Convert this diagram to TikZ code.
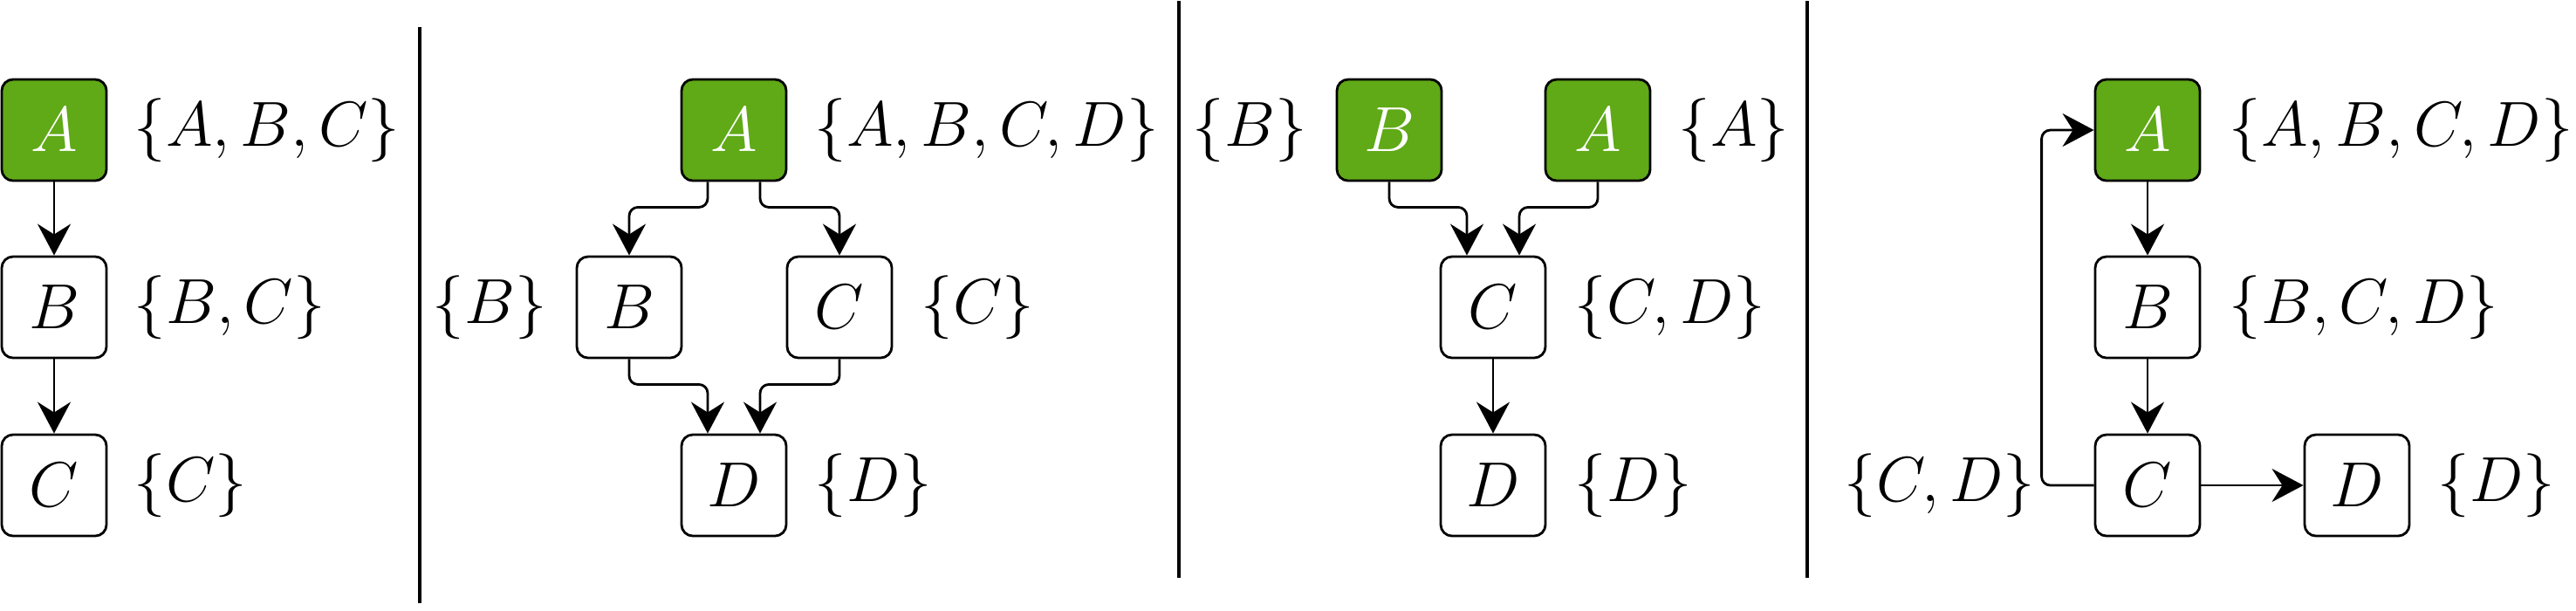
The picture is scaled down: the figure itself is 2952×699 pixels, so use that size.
\documentclass[tikz,border=0pt]{standalone}
\usetikzlibrary{arrows.meta}
\definecolor{dgreen}{HTML}{60A917}
\begin{document}
\begin{tikzpicture}[x=0.01cm,y=-0.01cm,
  box/.style={draw, line width=0.8pt, rounded corners=0.13cm, minimum width=1.2cm, minimum height=1.16cm, inner sep=0pt, font=\fontsize{21}{25}\selectfont},
  gbox/.style={box, fill=dgreen, text=white},
  lab/.style={anchor=west, inner sep=0pt, font=\fontsize{21}{25}\selectfont},
  conn/.style={line width=0.8pt, rounded corners=0.1cm, -{Stealth[length=0.36cm,width=0.38cm,inset=0.12cm]}},
  sepline/.style={line width=0.9pt}]
\useasboundingbox (0,0) rectangle (2952,699);
% separators
\draw[sepline] (481,31) -- (481,691);
\draw[sepline] (1351,1) -- (1351,662);
\draw[sepline] (2071,1) -- (2071,662);
% panel 1
\node[gbox] (a1) at (62,149) {$A$};
\node[box] (b1) at (62,352) {$B$};
\node[box] (c1) at (62,556) {$C$};
\node[lab] (la1) at (153,149) {$\{A,B,C\}$};
\node[lab] (lb1) at (153,352) {$\{B,C\}$};
\node[lab] (lc1) at (153,556) {$\{C\}$};
\draw[conn] (a1.south) -- (b1.north);
\draw[conn] (b1.south) -- (c1.north);
% panel 2
\node[gbox] (a2) at (841,149) {$A$};
\node[box] (b2) at (721,352) {$B$};
\node[box] (c2) at (962,352) {$C$};
\node[box] (d2) at (841,556) {$D$};
\node[lab] (la2) at (933,149) {$\{A,B,C,D\}$};
\node[lab] (lb2) at (495,352) {$\{B\}$};
\node[lab] (lc2) at (1055,352) {$\{C\}$};
\node[lab] (ld2) at (933,556) {$\{D\}$};
\draw[conn] ([xshift=-0.3cm]a2.south) -- ++(0,29) -| (b2.north);
\draw[conn] ([xshift=0.3cm]a2.south) -- ++(0,29) -| (c2.north);
\draw[conn] (b2.south) -- ++(0,29) -| ([xshift=-0.3cm]d2.north);
\draw[conn] (c2.south) -- ++(0,29) -| ([xshift=0.3cm]d2.north);
% panel 3
\node[gbox] (b3) at (1592,149) {$B$};
\node[gbox] (a3) at (1831,149) {$A$};
\node[box] (c3) at (1711,352) {$C$};
\node[box] (d3) at (1711,556) {$D$};
\node[lab] (lb3) at (1366,149) {$\{B\}$};
\node[lab] (la3) at (1923,149) {$\{A\}$};
\node[lab] (lc3) at (1804,352) {$\{C,D\}$};
\node[lab] (ld3) at (1804,556) {$\{D\}$};
\draw[conn] (b3.south) -- ++(0,29) -| ([xshift=-0.3cm]c3.north);
\draw[conn] (a3.south) -- ++(0,29) -| ([xshift=0.3cm]c3.north);
\draw[conn] (c3.south) -- (d3.north);
% panel 4
\node[gbox] (a4) at (2461,149) {$A$};
\node[box] (b4) at (2461,352) {$B$};
\node[box] (c4) at (2461,556) {$C$};
\node[box] (d4) at (2701,556) {$D$};
\node[lab] (la4) at (2554,149) {$\{A,B,C,D\}$};
\node[lab] (lb4) at (2554,352) {$\{B,C,D\}$};
\node[lab] (lc4) at (2113,556) {$\{C,D\}$};
\node[lab] (ld4) at (2793,556) {$\{D\}$};
\draw[conn] (a4.south) -- (b4.north);
\draw[conn] (b4.south) -- (c4.north);
\draw[conn] (c4.east) -- (d4.west);
\draw[conn] (c4.west) -- ++(-60,0) |- (a4.west);
\end{tikzpicture}
\end{document}
